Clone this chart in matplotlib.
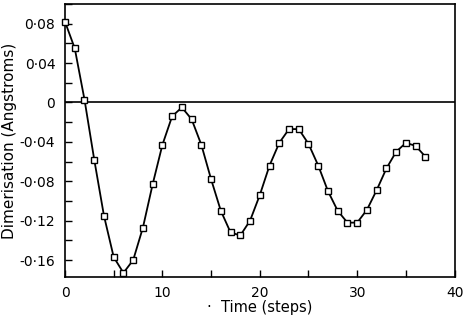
import matplotlib.pyplot as plt
from matplotlib.ticker import MultipleLocator, FixedLocator

steps = list(range(38))
dimerisation = [0.082, 0.055, 0.003, -0.058, -0.115, -0.157, -0.173, -0.160,
                -0.127, -0.083, -0.043, -0.014, -0.005, -0.017, -0.043, -0.078,
                -0.110, -0.132, -0.135, -0.120, -0.094, -0.064, -0.041, -0.027,
                -0.027, -0.042, -0.064, -0.090, -0.110, -0.122, -0.122, -0.109,
                -0.089, -0.067, -0.050, -0.041, -0.044, -0.055]

y_ticks = [0.08, 0.04, 0, -0.04, -0.08, -0.12, -0.16]
y_labels = ['0·08', '0·04', '0', '-0·04', '-0·08', '-0·12', '-0·16']
x_ticks = [0, 10, 20, 30, 40]

fig = plt.figure(figsize=(4.65, 3.16), dpi=100)
ax = fig.add_axes([0.1398, 0.1225, 0.8378, 0.8648])

ax.axhline(0, color='black', lw=1.2)
ax.plot(steps, dimerisation, color='black', lw=1.3, marker='s', ms=3.8,
        mfc='white', mec='black', mew=1.0, clip_on=False, zorder=3)

ax.set_xlim(0, 40)
ax.set_ylim(-0.1775, 0.1)
ax.yaxis.set_major_locator(FixedLocator(y_ticks))
ax.set_yticklabels(y_labels)
ax.yaxis.set_minor_locator(MultipleLocator(0.02))
ax.xaxis.set_major_locator(FixedLocator(x_ticks))
ax.xaxis.set_minor_locator(MultipleLocator(5))

ax.tick_params(which='both', direction='in', length=5, width=1.0,
               labelsize=10, top=False, right=False)
ax.tick_params(axis='y', pad=7)
ax.tick_params(axis='x', pad=6)
for s in ax.spines.values():
    s.set_linewidth(1.2)

ax.set_ylabel('Dimerisation (Angstroms)', fontsize=11, labelpad=2)
ax.set_xlabel('·  Time (steps)', fontsize=10.5, labelpad=0)

fig.savefig('out.png', dpi=100)
